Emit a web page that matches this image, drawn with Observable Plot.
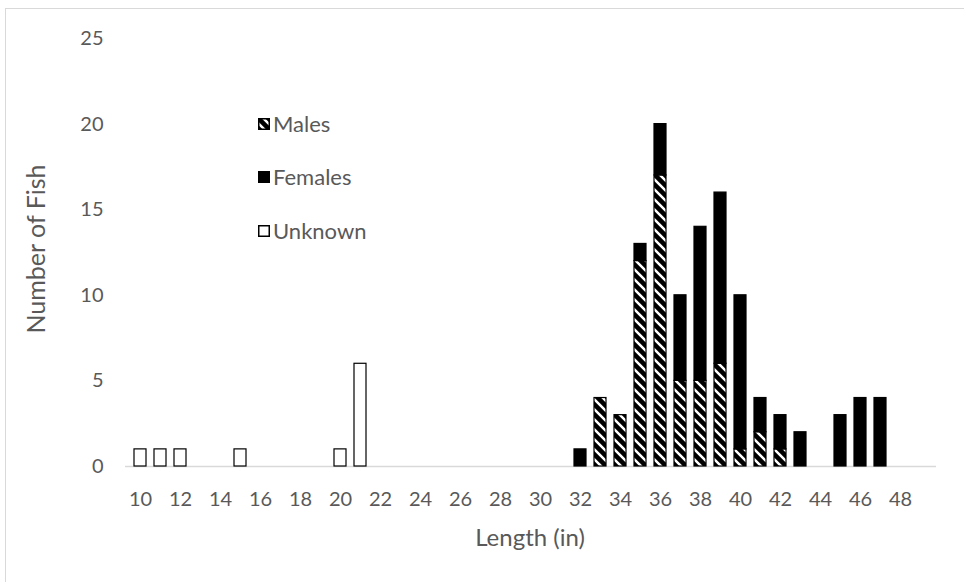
<!DOCTYPE html>
<html>
<head>
<meta charset="utf-8">
<script src="https://cdn.jsdelivr.net/npm/d3@7"></script>
<script src="https://cdn.jsdelivr.net/npm/@observablehq/plot@0.6"></script>
<style>
  html, body { margin: 0; padding: 0; background: #fff; overflow: hidden; }
  #wrap { position: relative; width: 964px; height: 582px; font-family: Lato, "Open Sans", sans-serif; color: #595959; }
  #border { position: absolute; left: 5px; top: 8px; width: 970px; height: 600px; border: 1.5px solid #d9d9d9; box-sizing: border-box; pointer-events: none; }
  #chart { position: absolute; left: 0; top: 0; }
  .title { position: absolute; font-size: 24px; white-space: nowrap; line-height: 1; }
  #xtitle { left: 530px; top: 537px; transform: translate(-50%, -50%); }
  #ytitle { left: 35px; top: 249px; transform: translate(-50%, -50%) rotate(-90deg); font-size: 25px; }
  #legend { position: absolute; left: 258px; top: 0; }
  .item { position: absolute; left: 0; display: flex; align-items: center; white-space: nowrap; font-size: 22px; line-height: 1; transform: translateY(-50%); }
  .item svg { margin-right: 3px; }
</style>
</head>
<body>
<svg width="0" height="0" style="position:absolute">
  <defs>
    <pattern id="hatch" patternUnits="userSpaceOnUse" width="10" height="10">
      <rect width="10" height="10" fill="white"></rect>
      <path d="M-2.5,-2.5L12.5,12.5M-2.5,7.5L2.5,12.5M7.5,-2.5L12.5,2.5" stroke="black" stroke-width="4.6"></path>
    </pattern>
  </defs>
</svg>
<div id="wrap">
  <div id="chart"></div>
  <div id="border"></div>
  <div id="xtitle" class="title">Length (in)</div>
  <div id="ytitle" class="title">Number of Fish</div>
  <div id="legend"></div>
</div>
<script>
// Categories on the x axis (length in inches)
const categories = [10,11,12,13,14,15,16,17,18,19,20,21,22,23,24,25,26,27,28,29,30,31,32,33,34,35,36,37,38,39,40,41,42,43,44,45,46,47,48,49];
const xTickLabels = [10,12,14,16,18,20,22,24,26,28,30,32,34,36,38,40,42,44,46,48];
const yTickLabels = [0,5,10,15,20,25];

// Series
const seriesNames = ["Males", "Females", "Unknown"];
const maleLengths = [33,34,35,36,37,38,39,40,41,42];
const maleCounts  = [4, 3, 12,17,5, 5, 6, 1, 2, 1];
const femaleLengths = [32,35,36,37,38,39,40,41,42,43,45,46,47];
const femaleCounts  = [1, 1, 3, 5, 9, 10,9, 2, 2, 2, 3, 4, 4];
const unknownLengths = [10,11,12,15,20,21];
const unknownCounts  = [1, 1, 1, 1, 1, 6];

const seriesFills = ["url(#hatch)", "black", "white"];

const rows = [];
maleLengths.forEach((l, i) => rows.push({length: l, sex: "Males", count: maleCounts[i]}));
femaleLengths.forEach((l, i) => rows.push({length: l, sex: "Females", count: femaleCounts[i]}));
unknownLengths.forEach((l, i) => rows.push({length: l, sex: "Unknown", count: unknownCounts[i]}));

const chart = Plot.plot({
  width: 964,
  height: 582,
  marginLeft: 125,
  marginRight: 28,
  marginTop: 38,
  marginBottom: 116,
  style: {fontFamily: "Lato, 'Open Sans', sans-serif", fontSize: "20px", color: "#595959", background: "transparent"},
  x: {type: "band", domain: categories, paddingInner: 0.38, paddingOuter: 0.19},
  y: {domain: [0, 25]},
  color: {domain: seriesNames, range: seriesFills},
  marks: [
    Plot.axisY({ticks: yTickLabels, tickSize: 0, tickPadding: 22, label: null, fontSize: 20}),
    Plot.axisX({ticks: xTickLabels, tickSize: 0, tickPadding: 25, label: null, fontSize: 20}),
    Plot.ruleY([0], {stroke: "#d9d9d9", strokeWidth: 1.5}),
    Plot.barY(rows, Plot.stackY({x: "length", y: "count", fill: "sex", stroke: "black", strokeWidth: 1.2, order: seriesNames}))
  ]
});
document.getElementById("chart").appendChild(chart);

// Legend (HTML, placed inside the plot area)
const legendRows = [124, 177, 231];
const legend = document.getElementById("legend");
seriesNames.forEach((name, i) => {
  const item = document.createElement("div");
  item.className = "item";
  item.style.top = legendRows[i] + "px";
  item.innerHTML = `<svg width="12" height="12"><rect x="0.75" y="0.75" width="10.5" height="10.5" fill="${seriesFills[i]}" stroke="black" stroke-width="1.5"></rect></svg><span>${name}</span>`;
  legend.appendChild(item);
});
</script>
</body>
</html>
